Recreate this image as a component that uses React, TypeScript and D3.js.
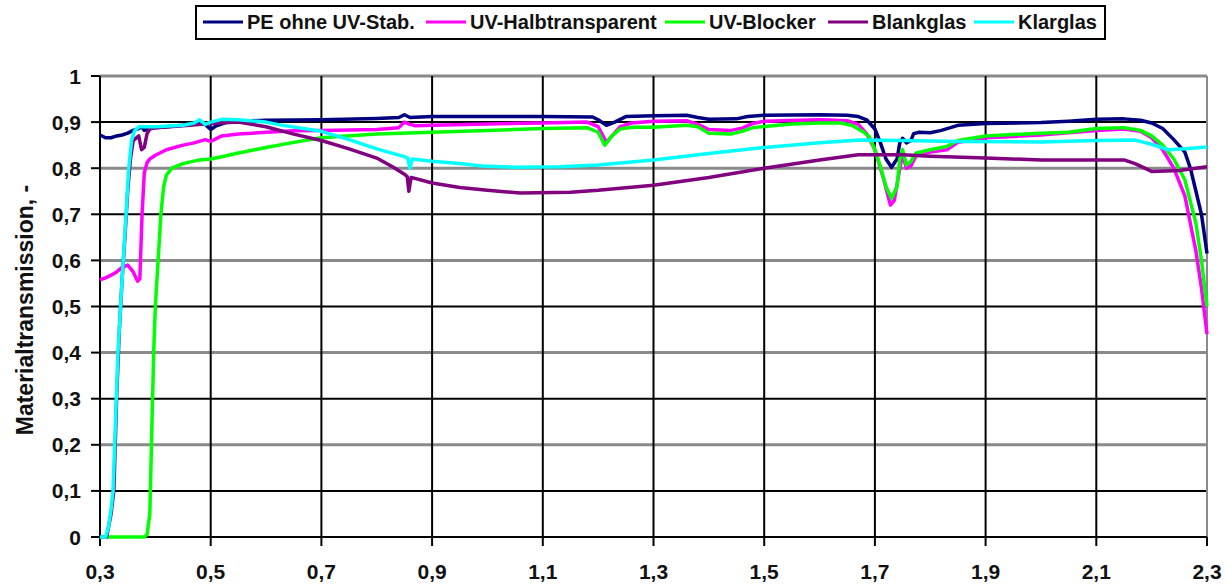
import React from "react";
import * as d3 from "d3";

type Pt = [number, number];

const xTicks = [0.3, 0.5, 0.7, 0.9, 1.1, 1.3, 1.5, 1.7, 1.9, 2.1, 2.3];
const yTicks = [0, 0.1, 0.2, 0.3, 0.4, 0.5, 0.6, 0.7, 0.8, 0.9, 1];
const fmt = (v: number) => (v === 0 ? "0" : v === 1 ? "1" : v.toFixed(1).replace(".", ","));

const peOhneUV: Pt[] = [
  [0.3, 0.872], [0.31, 0.866], [0.32, 0.866], [0.33, 0.87], [0.34, 0.872], [0.35, 0.876], [0.36, 0.882],
  [0.37, 0.886], [0.375, 0.89], [0.38, 0.882], [0.39, 0.886], [0.4, 0.888], [0.42, 0.89], [0.45, 0.893],
  [0.47, 0.898], [0.48, 0.9], [0.49, 0.895], [0.5, 0.884], [0.51, 0.892], [0.53, 0.9], [0.55, 0.902],
  [0.6, 0.904], [0.7, 0.905], [0.8, 0.908], [0.84, 0.91], [0.85, 0.916], [0.86, 0.91], [0.9, 0.912],
  [1.0, 0.912], [1.1, 0.912], [1.19, 0.911], [1.2, 0.905], [1.215, 0.893], [1.23, 0.9], [1.25, 0.912],
  [1.3, 0.914], [1.36, 0.915], [1.38, 0.91], [1.4, 0.906], [1.45, 0.907], [1.47, 0.912], [1.5, 0.915],
  [1.6, 0.916], [1.65, 0.915], [1.67, 0.912], [1.685, 0.905], [1.7, 0.885], [1.71, 0.855], [1.72, 0.82],
  [1.73, 0.802], [1.74, 0.82], [1.745, 0.855], [1.75, 0.865], [1.757, 0.855], [1.765, 0.86], [1.77, 0.875],
  [1.78, 0.878], [1.8, 0.877], [1.82, 0.882], [1.85, 0.893], [1.9, 0.897], [2.0, 0.899], [2.05, 0.902],
  [2.1, 0.906], [2.15, 0.907], [2.18, 0.904], [2.2, 0.898], [2.22, 0.886], [2.24, 0.862], [2.26, 0.835],
  [2.27, 0.8], [2.28, 0.75], [2.29, 0.7], [2.3, 0.615],
];

const uvHalb: Pt[] = [
  [0.3, 0.558], [0.31, 0.562], [0.32, 0.568], [0.33, 0.575], [0.34, 0.585], [0.35, 0.59], [0.36, 0.575],
  [0.368, 0.555], [0.372, 0.56], [0.376, 0.7], [0.38, 0.79], [0.385, 0.812], [0.39, 0.82], [0.4, 0.828],
  [0.42, 0.84], [0.45, 0.85], [0.47, 0.855], [0.49, 0.862], [0.5, 0.858], [0.52, 0.87], [0.55, 0.874],
  [0.6, 0.878], [0.65, 0.881], [0.7, 0.882], [0.8, 0.884], [0.84, 0.888], [0.85, 0.9], [0.86, 0.895],
  [0.87, 0.892], [0.9, 0.893], [1.0, 0.896], [1.1, 0.898], [1.18, 0.9], [1.2, 0.89], [1.215, 0.856],
  [1.225, 0.87], [1.24, 0.89], [1.26, 0.898], [1.3, 0.902], [1.36, 0.903], [1.38, 0.895], [1.4, 0.884],
  [1.44, 0.882], [1.46, 0.887], [1.48, 0.897], [1.5, 0.902], [1.6, 0.905], [1.65, 0.903], [1.67, 0.895],
  [1.685, 0.875], [1.7, 0.84], [1.715, 0.78], [1.728, 0.72], [1.735, 0.73], [1.745, 0.8], [1.75, 0.83],
  [1.757, 0.8], [1.765, 0.805], [1.775, 0.828], [1.8, 0.835], [1.83, 0.84], [1.85, 0.856], [1.9, 0.866],
  [2.0, 0.872], [2.1, 0.882], [2.15, 0.885], [2.18, 0.88], [2.2, 0.866], [2.22, 0.84], [2.24, 0.8],
  [2.26, 0.74], [2.28, 0.62], [2.29, 0.54], [2.3, 0.44],
];

const uvBlocker: Pt[] = [
  [0.3, 0], [0.38, 0], [0.385, 0.005], [0.39, 0.05], [0.393, 0.2], [0.397, 0.4], [0.4, 0.5], [0.405, 0.6],
  [0.41, 0.7], [0.415, 0.76], [0.42, 0.785], [0.43, 0.8], [0.45, 0.81], [0.48, 0.818], [0.5, 0.82],
  [0.52, 0.825], [0.55, 0.833], [0.6, 0.845], [0.65, 0.856], [0.7, 0.866], [0.8, 0.874], [0.9, 0.878],
  [1.0, 0.882], [1.1, 0.886], [1.18, 0.888], [1.2, 0.878], [1.212, 0.85], [1.225, 0.87], [1.24, 0.885],
  [1.26, 0.889], [1.3, 0.889], [1.36, 0.893], [1.38, 0.89], [1.4, 0.876], [1.44, 0.874], [1.46, 0.88],
  [1.48, 0.888], [1.55, 0.896], [1.6, 0.898], [1.64, 0.898], [1.66, 0.892], [1.68, 0.878], [1.69, 0.868],
  [1.7, 0.84], [1.71, 0.803], [1.72, 0.76], [1.73, 0.735], [1.74, 0.76], [1.745, 0.82], [1.75, 0.84],
  [1.757, 0.807], [1.765, 0.815], [1.775, 0.833], [1.8, 0.84], [1.83, 0.847], [1.85, 0.86], [1.9, 0.87],
  [2.0, 0.876], [2.05, 0.878], [2.1, 0.886], [2.15, 0.888], [2.18, 0.882], [2.2, 0.87], [2.22, 0.85],
  [2.24, 0.82], [2.26, 0.775], [2.28, 0.68], [2.29, 0.6], [2.3, 0.5],
];

const blankglas: Pt[] = [
  [0.3, 0], [0.312, 0], [0.32, 0.05], [0.325, 0.1], [0.33, 0.3], [0.335, 0.45], [0.34, 0.56], [0.345, 0.65],
  [0.35, 0.75], [0.355, 0.82], [0.36, 0.86], [0.37, 0.87], [0.375, 0.84], [0.38, 0.845], [0.385, 0.875],
  [0.39, 0.885], [0.4, 0.888], [0.45, 0.892], [0.5, 0.897], [0.55, 0.9], [0.6, 0.89], [0.65, 0.874],
  [0.7, 0.86], [0.75, 0.842], [0.8, 0.822], [0.83, 0.802], [0.85, 0.787], [0.855, 0.782], [0.858, 0.75],
  [0.862, 0.78], [0.9, 0.768], [0.95, 0.758], [1.0, 0.752], [1.06, 0.746], [1.15, 0.748], [1.2, 0.752],
  [1.3, 0.763], [1.4, 0.78], [1.5, 0.8], [1.6, 0.818], [1.67, 0.829], [1.75, 0.829], [1.8, 0.826],
  [1.9, 0.822], [2.0, 0.818], [2.1, 0.818], [2.15, 0.818], [2.17, 0.81], [2.2, 0.793], [2.25, 0.795],
  [2.3, 0.803],
];

const klarglas: Pt[] = [
  [0.3, 0], [0.31, 0], [0.315, 0.02], [0.32, 0.06], [0.3235, 0.1], [0.328, 0.25], [0.3325, 0.4],
  [0.34, 0.56], [0.342, 0.6], [0.347, 0.7], [0.352, 0.8], [0.357, 0.86], [0.362, 0.88], [0.37, 0.89],
  [0.4, 0.89], [0.45, 0.893], [0.47, 0.898], [0.48, 0.905], [0.49, 0.895], [0.5, 0.9], [0.52, 0.906],
  [0.55, 0.905], [0.6, 0.9], [0.625, 0.894], [0.7, 0.88], [0.75, 0.862], [0.8, 0.842], [0.85, 0.825],
  [0.856, 0.822], [0.86, 0.8], [0.864, 0.82], [0.9, 0.815], [0.95, 0.81], [0.99, 0.805], [1.05, 0.802],
  [1.13, 0.803], [1.2, 0.807], [1.3, 0.818], [1.4, 0.832], [1.49, 0.844], [1.6, 0.855], [1.673, 0.861],
  [1.75, 0.86], [1.85, 0.858], [2.0, 0.857], [2.1, 0.86], [2.17, 0.861], [2.2, 0.852], [2.23, 0.84],
  [2.26, 0.842], [2.3, 0.846],
];

const seriesNames = ["PE ohne UV-Stab.", "UV-Halbtransparent", "UV-Blocker", "Blankglas", "Klarglas"];
const seriesData = [peOhneUV, uvHalb, uvBlocker, blankglas, klarglas];
const seriesColors = ["#000080", "#FF00FF", "#00FF00", "#800080", "#00FFFF"];
const legendTextX = [247, 470, 709, 872, 1018];

const W = 1226;
const H = 584;
const font = "'Liberation Sans', Arial, Helvetica, sans-serif";

export default function App() {
  const x = d3.scaleLinear().domain([0.3, 2.3]).range([100, 1207]);
  const y = d3.scaleLinear().domain([0, 1]).range([537, 76]);
  const line = d3
    .line<Pt>()
    .x((d) => x(d[0]))
    .y((d) => y(d[1]));

  return (
    <div style={{ position: "fixed", left: 0, top: 0 }}>
      <svg width={W} height={H} style={{ display: "block", background: "#fff" }}>
        {yTicks.slice(1).map((t, i) => {
          const even = (i + 1) % 2 === 0;
          return (
            <line
              key={"h" + t}
              x1={x(0.3)}
              x2={x(2.3)}
              y1={y(t)}
              y2={y(t)}
              stroke={even ? "#8a8a8a" : "#000"}
              strokeWidth={even ? 3 : 2}
            />
          );
        })}
        {xTicks.slice(1).map((t) => (
          <line
            key={"v" + t}
            x1={x(t)}
            x2={x(t)}
            y1={y(1)}
            y2={y(0)}
            stroke={t === 2.3 ? "#8a8a8a" : "#000"}
            strokeWidth={2}
          />
        ))}
        <line x1={x(0.3)} x2={x(0.3)} y1={y(1)} y2={y(0)} stroke="#000" strokeWidth={2} />
        <line x1={x(0.3)} x2={x(2.3)} y1={y(0)} y2={y(0)} stroke="#000" strokeWidth={2} />
        {yTicks.map((t) => (
          <g key={"yt" + t}>
            <line x1={x(0.3) - 9} x2={x(0.3)} y1={y(t)} y2={y(t)} stroke="#000" strokeWidth={2} />
            <text
              x={81}
              y={y(t)}
              dy="0.36em"
              textAnchor="end"
              fontFamily={font}
              fontWeight="bold"
              fontSize={21}
              fill="#111"
            >
              {fmt(t)}
            </text>
          </g>
        ))}
        {xTicks.map((t) => (
          <g key={"xt" + t}>
            <line x1={x(t)} x2={x(t)} y1={y(0)} y2={y(0) + 9} stroke="#000" strokeWidth={2} />
            <text
              x={x(t)}
              y={579}
              textAnchor="middle"
              fontFamily={font}
              fontWeight="bold"
              fontSize={21}
              fill="#111"
            >
              {fmt(t)}
            </text>
          </g>
        ))}
        <text
          transform="translate(33,310) rotate(-90)"
          textAnchor="middle"
          fontFamily={font}
          fontWeight="bold"
          fontSize={23}
          fill="#111"
        >
          Materialtransmission, -
        </text>
        {seriesData.map((d, i) => (
          <path
            key={"s" + i}
            d={line(d) || ""}
            fill="none"
            stroke={seriesColors[i]}
            strokeWidth={3.5}
            strokeLinejoin="round"
          />
        ))}
        <rect x={196} y={6} width={909} height={33} fill="#fff" stroke="#000" strokeWidth={2} />
        {seriesNames.map((n, i) => (
          <g key={"lg" + i}>
            <line
              x1={legendTextX[i] - 44}
              x2={legendTextX[i] - 4}
              y1={22}
              y2={22}
              stroke={seriesColors[i]}
              strokeWidth={3}
            />
            <text
              x={legendTextX[i]}
              y={29}
              fontFamily={font}
              fontWeight="bold"
              fontSize={20}
              fill="#111"
            >
              {n}
            </text>
          </g>
        ))}
      </svg>
    </div>
  );
}
